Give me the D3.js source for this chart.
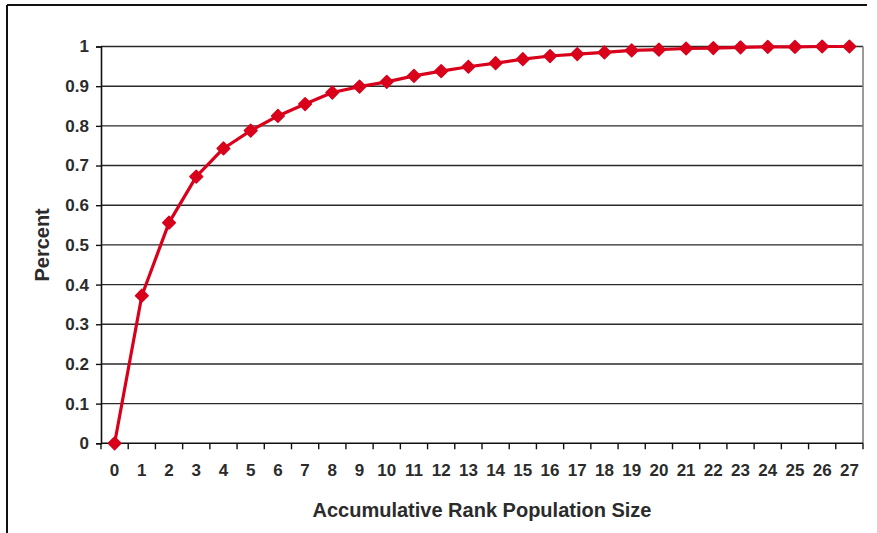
<!DOCTYPE html>
<html>
<head>
<meta charset="utf-8">
<script src="https://cdn.jsdelivr.net/npm/d3@7"></script>
<style>
  html, body { margin: 0; padding: 0; background: #fff; }
  svg { display: block; font-family: "Liberation Sans", Arial, sans-serif; }
</style>
</head>
<body>
<svg id="chart" width="877" height="533"></svg>
<script>
// Rank positions along the x axis
const ranks = d3.range(0, 28);
// Cumulative share reached at each rank
const percentValues = [
  0, 0.372, 0.556, 0.672, 0.743, 0.788, 0.825, 0.855, 0.884, 0.899,
  0.911, 0.926, 0.938, 0.949, 0.958, 0.968, 0.976, 0.981, 0.985, 0.990,
  0.992, 0.995, 0.996, 0.998, 0.999, 0.999, 1.0, 1.0
];
// Y axis tick values
const yTicks = [0, 0.1, 0.2, 0.3, 0.4, 0.5, 0.6, 0.7, 0.8, 0.9, 1];

const svg = d3.select("#chart");
const W = 877, H = 533;
const plot = { left: 101, right: 863, top: 46.5, bottom: 443.3 };

// Outer frame (top and left edges visible)
svg.append("line").attr("x1", 7).attr("x2", 867).attr("y1", 5).attr("y2", 5)
  .attr("stroke", "#111").attr("stroke-width", 2);
svg.append("line").attr("x1", 7).attr("x2", 7).attr("y1", 5).attr("y2", H)
  .attr("stroke", "#111").attr("stroke-width", 2);

const x = d3.scaleBand().domain(ranks).range([plot.left, plot.right]).padding(0);
const y = d3.scaleLinear().domain([0, 1]).range([plot.bottom, plot.top]);

// Horizontal gridlines
svg.append("g").selectAll("line").data(yTicks.filter(d => d > 0)).join("line")
  .attr("x1", plot.left).attr("x2", plot.right)
  .attr("y1", d => y(d)).attr("y2", d => y(d))
  .attr("stroke", "#2a2a2a").attr("stroke-width", 1.4);

// Plot area border on the right
svg.append("line").attr("x1", plot.right).attr("x2", plot.right)
  .attr("y1", plot.top).attr("y2", plot.bottom)
  .attr("stroke", "#808080").attr("stroke-width", 1.6);

// Y axis
const yAxis = svg.append("g").attr("transform", `translate(${plot.left},0)`)
  .call(d3.axisLeft(y).tickValues(yTicks).tickFormat(d3.format("")).tickSize(5).tickPadding(7));
yAxis.select(".domain").attr("stroke", "#111").attr("stroke-width", 1.6);
yAxis.selectAll(".tick line").attr("stroke", "#111").attr("stroke-width", 1.4);
yAxis.selectAll(".tick text").attr("font-size", 17).attr("font-weight", "bold")
  .attr("fill", "#2b2b2b").attr("font-family", "Liberation Sans, Arial, sans-serif");

// X axis: ticks sit on band boundaries, labels at band centers
const xAxisG = svg.append("g").attr("transform", `translate(0,${plot.bottom})`);
xAxisG.append("line").attr("x1", plot.left).attr("x2", plot.right)
  .attr("stroke", "#111").attr("stroke-width", 1.6);
const boundaries = ranks.map(r => x(r)).concat([plot.right]);
xAxisG.selectAll("line.tk").data(boundaries).join("line").attr("class", "tk")
  .attr("x1", d => d).attr("x2", d => d).attr("y1", 0).attr("y2", 6)
  .attr("stroke", "#111").attr("stroke-width", 1.4);
xAxisG.selectAll("text").data(ranks).join("text")
  .attr("x", d => x(d) + x.bandwidth() / 2).attr("y", 33)
  .attr("text-anchor", "middle").attr("font-size", 17).attr("font-weight", "bold")
  .attr("fill", "#2b2b2b").text(d => d);

// Axis titles
svg.append("text").attr("x", (plot.left + plot.right) / 2).attr("y", 517)
  .attr("text-anchor", "middle").attr("font-size", 20).attr("font-weight", "bold")
  .attr("fill", "#2b2b2b").text("Accumulative Rank Population Size");
svg.append("text").attr("transform", `translate(49,${(plot.top + plot.bottom) / 2}) rotate(-90)`)
  .attr("text-anchor", "middle").attr("font-size", 20).attr("font-weight", "bold")
  .attr("fill", "#2b2b2b").text("Percent");

// Series line and diamond markers
const red = "#d9001b";
const line = d3.line().x((d, i) => x(ranks[i]) + x.bandwidth() / 2).y(d => y(d));
svg.append("path").datum(percentValues).attr("d", line)
  .attr("fill", "none").attr("stroke", red).attr("stroke-width", 3.2)
  .attr("stroke-linejoin", "round");
const diamond = d3.symbol().type(d3.symbolSquare).size(80);
svg.append("g").selectAll("path").data(percentValues).join("path")
  .attr("d", diamond)
  .attr("transform", (d, i) => `translate(${x(ranks[i]) + x.bandwidth() / 2},${y(d)}) rotate(45)`)
  .attr("fill", red).attr("stroke", red).attr("stroke-width", 1.5).attr("stroke-linejoin", "round");
</script>
</body>
</html>
